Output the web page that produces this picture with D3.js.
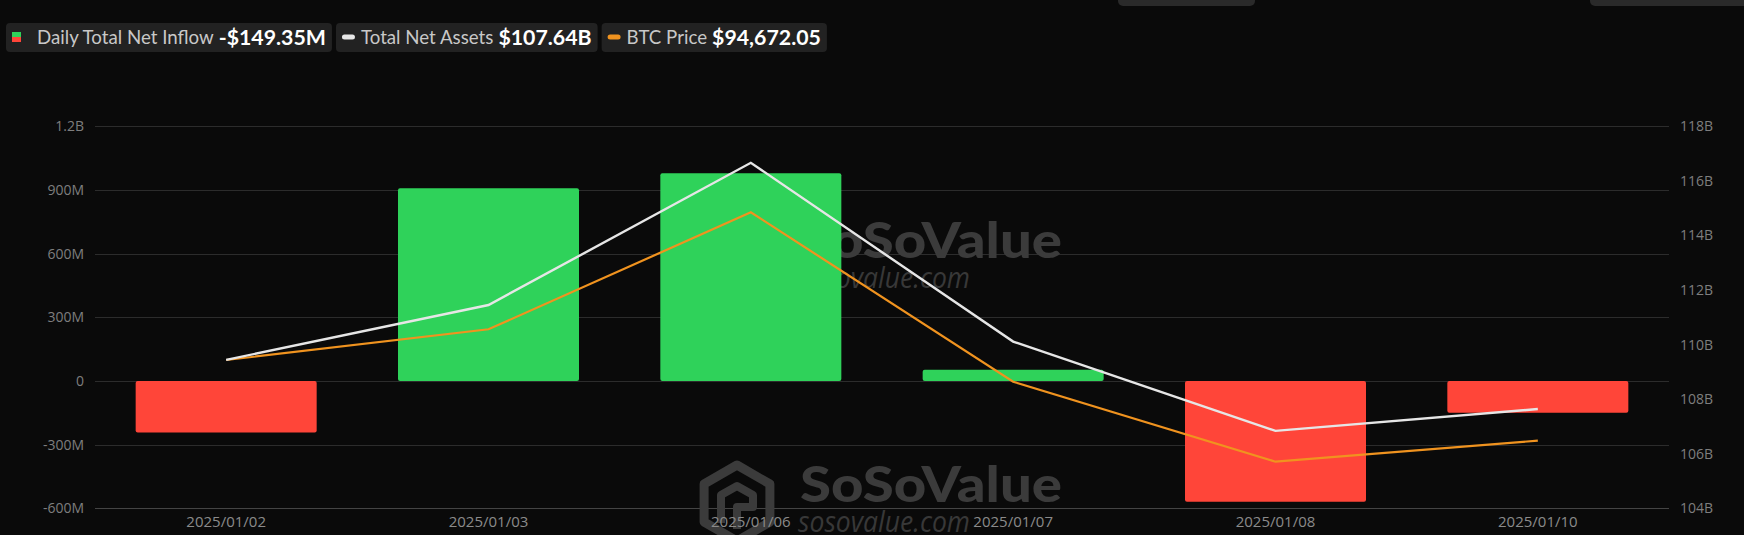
<!DOCTYPE html>
<html>
<head>
<meta charset="utf-8">
<script src="https://cdn.jsdelivr.net/npm/d3@7"></script>
<style>
  html, body { margin: 0; padding: 0; background: #0a0a0a; }
  svg { display: block; }
</style>
</head>
<body>
<svg id="chart" width="1744" height="535"></svg>
<script>
// ---------- data ----------
const dates = ["2025/01/02", "2025/01/03", "2025/01/06", "2025/01/07", "2025/01/08", "2025/01/10"];
const netInflowM = [-242.3, 908.1, 978.6, 52.4, -568.8, -149.35];      // millions USD
const totalNetAssetsB = [109.44, 111.45, 116.66, 110.11, 106.84, 107.64]; // billions USD
const btcPrice = [97257, 98241, 101990, 96561, 93997, 94672.05];

const leftTicks = [-600, -300, 0, 300, 600, 900, 1200];
const leftTickLabels = ["-600M", "-300M", "0", "300M", "600M", "900M", "1.2B"];
const rightTicks = [104, 106, 108, 110, 112, 114, 116, 118];
const rightTickLabels = ["104B", "106B", "108B", "110B", "112B", "114B", "116B", "118B"];

const legendLabels = ["Daily Total Net Inflow", "Total Net Assets", "BTC Price"];
const legendValues = ["-$149.35M", "$107.64B", "$94,672.05"];

// ---------- layout ----------
const W = 1744, H = 535;
const plotL = 95, plotR = 1669, plotT = 126.2, plotB = 508.4;
const GREEN = "#2fd25a", RED = "#ff4539", WHITE = "#e6e6e6", ORANGE = "#f0931f";

const svg = d3.select("#chart");
svg.append("rect").attr("width", W).attr("height", H).attr("fill", "#0a0a0a");

const x = d3.scaleBand().domain(dates).range([plotL, plotR]).paddingInner(0.31).paddingOuter(0.155);
const yL = d3.scaleLinear().domain([-600, 1200]).range([plotB, plotT]);
const yR = d3.scaleLinear().domain([104, 118]).range([plotB, plotT]);
const yP = d3.scaleLinear().domain([92500, 104750]).range([plotB, plotT]); // hidden price axis

// top-right tab stubs
svg.append("rect").attr("x", 1118).attr("y", -6).attr("width", 137).attr("height", 12).attr("rx", 5).attr("fill", "#2a2a2a");
svg.append("rect").attr("x", 1590).attr("y", -6).attr("width", 170).attr("height", 12).attr("rx", 5).attr("fill", "#2a2a2a");

// ---------- gridlines ----------
const grid = svg.append("g");
grid.selectAll("line").data(leftTicks).join("line")
  .attr("x1", plotL).attr("x2", plotR)
  .attr("y1", d => Math.round(yL(d)) + 0.5).attr("y2", d => Math.round(yL(d)) + 0.5)
  .attr("stroke", d => d === -600 ? "#444" : "#2c2c2c").attr("stroke-width", 1);

// ---------- watermark ----------
function watermark(g, baseY) {
  const cx = 737, cy = baseY + 1, r = 38;
  const hex = d3.range(6).map(i => {
    const a = Math.PI / 180 * (60 * i - 90);
    return [cx + r * Math.cos(a), cy + r * Math.sin(a)];
  });
  g.append("path").attr("d", d3.line()(hex) + "Z")
    .attr("fill", "none").attr("stroke", "#3b3b3b").attr("stroke-width", 9).attr("stroke-linejoin", "round");
  g.append("path")
    .attr("d", `M${cx - 16},${cy + 20} L${cx - 16},${cy - 8} L${cx},${cy - 17} L${cx + 16},${cy - 8} L${cx + 16},${cy + 4} L${cx},${cy + 4} L${cx},${cy + 26}`)
    .attr("fill", "none").attr("stroke", "#3b3b3b").attr("stroke-width", 8).attr("stroke-linejoin", "round");
  g.append("text").attr("x", 800).attr("y", baseY)
    .attr("font-family", "Lato, sans-serif").attr("font-weight", 900).attr("font-size", 50)
    .attr("textLength", 262).attr("lengthAdjust", "spacingAndGlyphs")
    .attr("fill", "#3b3b3b").text("SoSoValue");
  g.append("text").attr("x", 798).attr("y", baseY + 30)
    .attr("font-family", "'Open Sans', sans-serif").attr("font-style", "italic").attr("font-size", 29)
    .attr("textLength", 172).attr("lengthAdjust", "spacingAndGlyphs")
    .attr("fill", "#383838").text("sosovalue.com");
}
watermark(svg.append("g"), 258);
watermark(svg.append("g"), 502);

// ---------- bars ----------
svg.append("g").selectAll("rect").data(dates).join("rect")
  .attr("x", d => x(d))
  .attr("width", x.bandwidth())
  .attr("y", (d, i) => yL(Math.max(0, netInflowM[i])))
  .attr("height", (d, i) => Math.abs(yL(netInflowM[i]) - yL(0)))
  .attr("rx", 2)
  .attr("fill", (d, i) => netInflowM[i] >= 0 ? GREEN : RED);

// ---------- lines ----------
const cxOf = d => x(d) + x.bandwidth() / 2;
svg.append("path").datum(dates)
  .attr("d", d3.line().x(cxOf).y((d, i) => yP(btcPrice[i])))
  .attr("fill", "none").attr("stroke", ORANGE).attr("stroke-width", 2.2);
svg.append("path").datum(dates)
  .attr("d", d3.line().x(cxOf).y((d, i) => yR(totalNetAssetsB[i])))
  .attr("fill", "none").attr("stroke", WHITE).attr("stroke-width", 2.4);

// ---------- axes ----------
const axisFont = "'Open Sans', sans-serif";
const leftAxis = d3.axisLeft(yL).tickValues(leftTicks).tickSize(0).tickPadding(0)
  .tickFormat(d => leftTickLabels[leftTicks.indexOf(d)]);
svg.append("g").attr("transform", `translate(84,0)`).call(leftAxis)
  .call(g => g.select(".domain").remove())
  .call(g => g.selectAll("text").attr("font-family", axisFont).attr("font-size", 14).attr("fill", "#7e7e7e"));

const rightAxis = d3.axisRight(yR).tickValues(rightTicks).tickSize(0).tickPadding(0)
  .tickFormat(d => rightTickLabels[rightTicks.indexOf(d)]);
svg.append("g").attr("transform", `translate(1680,0)`).call(rightAxis)
  .call(g => g.select(".domain").remove())
  .call(g => g.selectAll("text").attr("font-family", axisFont).attr("font-size", 14).attr("fill", "#7e7e7e"));

const bottomAxis = d3.axisBottom(x).tickSize(0).tickPadding(0);
svg.append("g").attr("transform", `translate(0,${plotB + 5})`).call(bottomAxis)
  .call(g => g.select(".domain").remove())
  .call(g => g.selectAll("text").attr("font-family", axisFont).attr("font-size", 15).attr("fill", "#8a8a8a").attr("dy", "0.9em"));

// ---------- legend ----------
const lg = svg.append("g");
let lx = 6;
legendLabels.forEach((lab, i) => {
  const g = lg.append("g");
  const bg = g.append("rect").attr("y", 23).attr("height", 29).attr("rx", 4).attr("fill", "#222222");
  let cx = lx + 6;
  if (i === 0) {
    g.append("rect").attr("x", cx).attr("y", 32).attr("width", 9).attr("height", 5).attr("fill", GREEN);
    g.append("rect").attr("x", cx).attr("y", 37).attr("width", 9).attr("height", 5).attr("fill", RED);
    cx += 9 + 16;
  } else {
    g.append("rect").attr("x", cx).attr("y", 34.5).attr("width", 13).attr("height", 5).attr("rx", 2.5)
      .attr("fill", i === 1 ? WHITE : ORANGE);
    cx += 13 + 6;
  }
  const t1 = g.append("text").attr("x", cx).attr("y", 44)
    .attr("font-family", "Lato, sans-serif").attr("font-size", 18.7).attr("fill", "#c8c8c8").text(lab);
  cx += t1.node().getComputedTextLength() + 5;
  const t2 = g.append("text").attr("x", cx).attr("y", 44.5)
    .attr("font-family", "Lato, sans-serif").attr("font-weight", 700).attr("font-size", 21.3).attr("fill", "#ffffff").text(legendValues[i]);
  cx += t2.node().getComputedTextLength() + 6;
  bg.attr("x", lx).attr("width", cx - lx);
  lx = cx + 4;
});
</script>
</body>
</html>
